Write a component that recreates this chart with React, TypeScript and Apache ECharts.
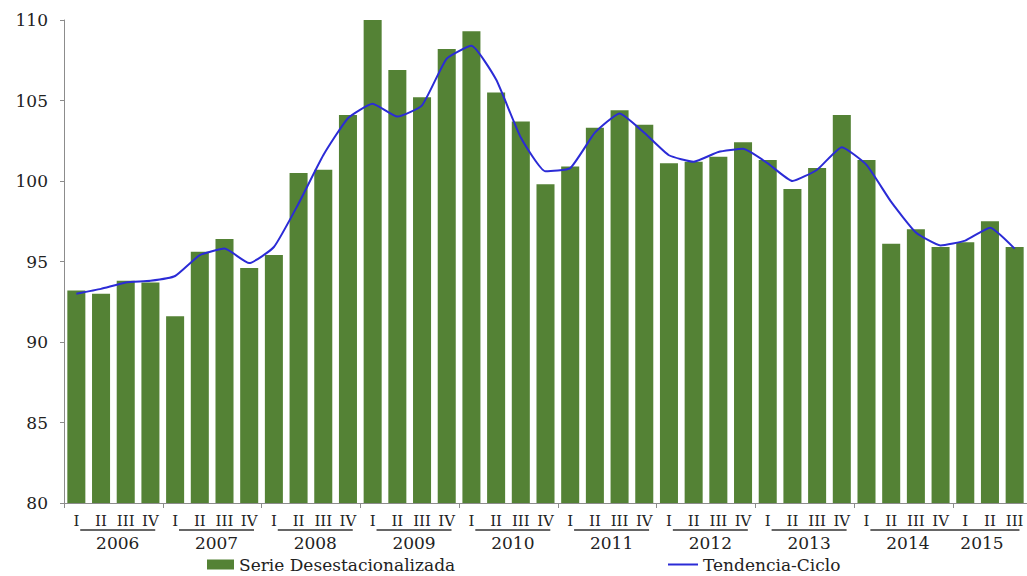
import React, { useEffect, useRef } from "react";
import * as echarts from "echarts";

const years = ["2006", "2007", "2008", "2009", "2010", "2011", "2012", "2013", "2014", "2015"];
const quarterLabels = ["I", "II", "III", "IV"];
const quarterCount = 39;

const seasonallyAdjusted = [
  93.2, 93.0, 93.8, 93.7,
  91.6, 95.6, 96.4, 94.6,
  95.4, 100.5, 100.7, 104.1,
  110.0, 106.9, 105.2, 108.2,
  109.3, 105.5, 103.7, 99.8,
  100.9, 103.3, 104.4, 103.5,
  101.1, 101.2, 101.5, 102.4,
  101.3, 99.5, 100.8, 104.1,
  101.3, 96.1, 97.0, 95.9,
  96.2, 97.5, 95.9,
];

const trendCycle = [
  93.0, 93.3, 93.7, 93.8,
  94.1, 95.4, 95.8, 94.9,
  95.9, 98.6, 101.6, 103.9,
  104.8, 104.0, 104.7, 107.6,
  108.4, 106.3, 102.7, 100.6,
  100.8, 103.0, 104.2, 103.0,
  101.6, 101.2, 101.8, 102.0,
  101.1, 100.0, 100.7, 102.1,
  101.0, 98.7, 96.8, 96.0,
  96.3, 97.1, 95.8,
];

const categories: string[] = [];
years.forEach((y) => quarterLabels.forEach((q) => categories.push(y + " " + q)));
const quarterCategories = categories.slice(0, quarterCount);

function yearLabelAt(index: number): string {
  const yi = Math.floor(index / 4);
  const last = years.length - 1;
  if (yi < last && index % 4 === 2) return years[yi];
  if (yi === last && index === 4 * last + 1) return years[yi];
  return "";
}

const FONT = "DejaVu Serif";
const BAR_COLOR = "#548235";
const LINE_COLOR = "#2b2bd6";
const AXIS_COLOR = "#8c8c8c";

export default function App() {
  const ref = useRef<HTMLDivElement>(null);
  useEffect(() => {
    if (!ref.current) return;
    const chart = echarts.init(ref.current, undefined, { renderer: "svg" });
    const legendText = { fontFamily: FONT, fontSize: 17, lineHeight: 17, color: "#222" };
    chart.setOption({
      animation: false,
      backgroundColor: "#ffffff",
      grid: { left: 64, right: -6, top: 20, bottom: 73, containLabel: false },
      legend: [
        {
          left: 207,
          top: 556,
          padding: 0,
          itemWidth: 27,
          itemHeight: 10,
          itemGap: 4,
          textStyle: legendText,
          data: [{ name: "Serie Desestacionalizada", icon: "rect" }],
        },
        {
          left: 668,
          top: 556,
          padding: 0,
          itemWidth: 30,
          itemHeight: 2,
          itemGap: 4,
          textStyle: legendText,
          data: [{ name: "Tendencia-Ciclo", icon: "rect" }],
        },
      ],
      xAxis: [
        {
          type: "category",
          data: quarterCategories,
          position: "bottom",
          axisLine: { show: true, lineStyle: { color: AXIS_COLOR, width: 1 } },
          axisTick: { show: false },
          axisLabel: {
            interval: 0,
            margin: 10,
            fontFamily: FONT,
            fontSize: 15,
            color: "#222",
            formatter: (v: string) => v.split(" ")[1],
          },
        },
        {
          type: "category",
          data: quarterCategories,
          position: "bottom",
          axisLine: { show: false },
          axisTick: {
            show: true,
            length: 5,
            interval: (index: number) => index % 4 === 0,
            lineStyle: { color: AXIS_COLOR },
          },
          axisLabel: {
            interval: 0,
            margin: 26,
            padding: [0, 16, 0, 0],
            fontFamily: FONT,
            fontSize: 17,
            color: "#222",
            formatter: (_v: string, index: number) => {
              const y = yearLabelAt(index);
              return y ? "{u|}\n{y|" + y + "}" : "";
            },
            rich: {
              u: { width: 75, height: 2, backgroundColor: "#666" },
              y: { fontFamily: FONT, fontSize: 17, lineHeight: 24, color: "#222" },
            },
          },
        },
      ],
      yAxis: {
        type: "value",
        min: 80,
        max: 110,
        interval: 5,
        axisLine: { show: true, lineStyle: { color: AXIS_COLOR, width: 1 } },
        axisTick: { show: true, length: 4, lineStyle: { color: AXIS_COLOR } },
        splitLine: { show: false },
        axisLabel: { margin: 16, fontFamily: FONT, fontSize: 17, color: "#222" },
      },
      series: [
        {
          name: "Serie Desestacionalizada",
          type: "bar",
          data: seasonallyAdjusted,
          barCategoryGap: "27%",
          itemStyle: { color: BAR_COLOR },
        },
        {
          name: "Tendencia-Ciclo",
          type: "line",
          data: trendCycle,
          symbol: "none",
          showSymbol: false,
          smooth: 0.15,
          lineStyle: { color: LINE_COLOR, width: 2 },
          itemStyle: { color: LINE_COLOR },
        },
      ],
    });
    return () => chart.dispose();
  }, []);
  return (
    <div
      ref={ref}
      style={{ position: "fixed", left: 0, top: 0, width: 1027, height: 576, background: "#fff" }}
    />
  );
}
